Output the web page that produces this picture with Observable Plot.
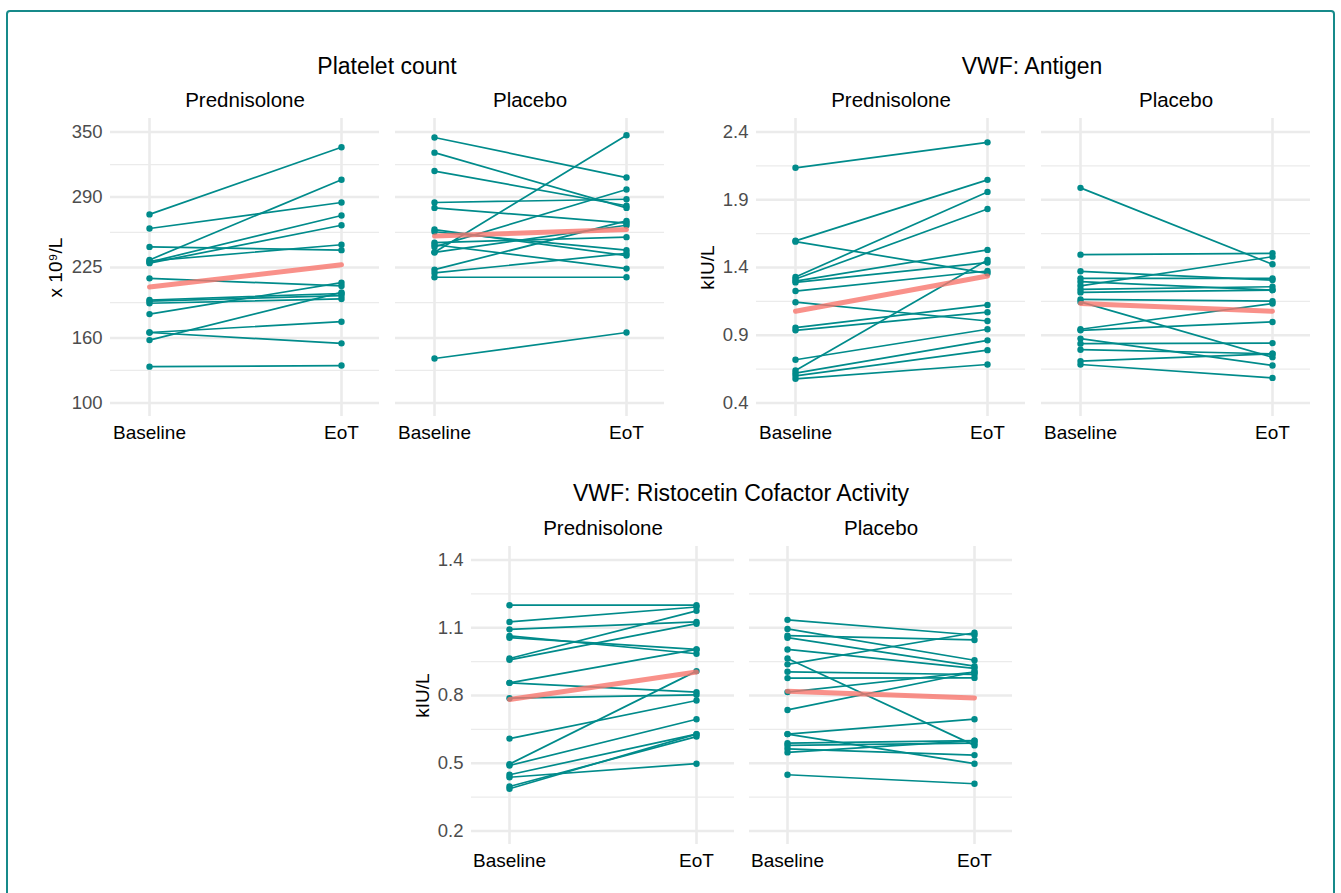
<!DOCTYPE html>
<html>
<head>
<meta charset="utf-8">
<script src="https://cdn.jsdelivr.net/npm/d3@7"></script>
<script src="https://cdn.jsdelivr.net/npm/@observablehq/plot@0.6"></script>
<style>
  html, body { margin: 0; padding: 0; background: #fff; }
  body { width: 1341px; height: 893px; overflow: hidden; position: relative; font-family: "Liberation Sans", Arial, sans-serif; }
  #frame { position: absolute; left: 6px; top: 10px; width: 1329px; height: 900px; border: 2px solid #168a8a; border-radius: 4px; box-sizing: border-box; }
  .title { position: absolute; transform: translate(-50%, -50%); font-size: 23px; color: #000; white-space: nowrap; }
  .panel { position: absolute; }
</style>
</head>
<body>
<div id="frame"></div>
<div class="title" style="left:387px; top:66px;">Platelet count</div>
<div class="title" style="left:1032px; top:66px;">VWF: Antigen</div>
<div class="title" style="left:741px; top:493px;">VWF: Ristocetin Cofactor Activity</div>
<div class="panel" id="pA" style="left:0px; top:78px;"></div>
<div class="panel" id="pB" style="left:680px; top:78px;"></div>
<div class="panel" id="pC" style="left:400px; top:506px;"></div>
<script>
// ---- categories ----
const timepoints = ["Baseline", "EoT"];
const arms = ["Prednisolone", "Placebo"];

// ---- Platelet count (x 10^9/L) ----
const plateletPredBaseline = [274, 261, 244, 232, 230, 229, 231, 215, 195, 194, 192, 182, 165, 165, 158, 133.5];
const plateletPredEoT      = [336, 285, 241, 306, 273, 264, 246, 208, 201, 199, 196, 211, 175, 155, 202, 134.5];
const plateletPlacBaseline = [345, 331, 314, 285, 280, 260, 258, 248, 246, 244, 239, 239, 223, 220, 216, 141];
const plateletPlacEoT      = [308, 280, 282, 288, 266, 236, 241, 253, 224, 297, 347, 264, 268, 238, 216, 165];
const plateletMeanPred = [207, 227.5];
const plateletMeanPlac = [254, 260];
const plateletTicks = [100, 160, 225, 290, 350];
const plateletMinor = [130, 192.5, 257.5, 320];

// ---- VWF: Antigen (kIU/L) ----
const antigenPredBaseline = [2.136, 1.597, 1.591, 1.33, 1.315, 1.30, 1.29, 1.226, 1.144, 0.956, 0.936, 0.719, 0.64, 0.62, 0.60, 0.578];
const antigenPredEoT      = [2.324, 2.047, 1.357, 1.958, 1.832, 1.53, 1.436, 1.374, 1.005, 1.124, 1.07, 0.944, 1.456, 0.862, 0.79, 0.684];
const antigenPlacBaseline = [1.988, 1.495, 1.372, 1.32, 1.295, 1.265, 1.238, 1.216, 1.164, 1.146, 0.944, 0.936, 0.875, 0.838, 0.793, 0.709, 0.684];
const antigenPlacEoT      = [1.424, 1.505, 1.307, 1.32, 1.233, 1.48, 1.258, 1.233, 1.151, 0.738, 1.134, 0.998, 0.677, 0.842, 0.763, 0.763, 0.585];
const antigenMeanPred = [1.077, 1.337];
const antigenMeanPlac = [1.134, 1.077];
const antigenTicks = [0.4, 0.9, 1.4, 1.9, 2.4];
const antigenMinor = [0.65, 1.15, 1.65, 2.15];

// ---- VWF: Ristocetin Cofactor Activity (kIU/L) ----
const rcoPredBaseline = [1.2, 1.126, 1.093, 1.064, 1.056, 0.964, 0.958, 0.856, 0.856, 0.788, 0.609, 0.496, 0.49, 0.449, 0.438, 0.397, 0.387];
const rcoPredEoT      = [1.2, 1.192, 1.126, 0.985, 1.004, 1.175, 1.118, 1.004, 0.815, 0.803, 0.778, 0.908, 0.695, 0.629, 0.498, 0.618, 0.629];
const rcoPlacBaseline = [1.135, 1.095, 1.065, 1.056, 1.004, 0.964, 0.938, 0.905, 0.877, 0.815, 0.736, 0.629, 0.629, 0.589, 0.579, 0.564, 0.548, 0.449];
const rcoPlacEoT      = [1.068, 0.956, 1.046, 0.93, 0.92, 0.579, 1.078, 0.893, 0.878, 0.904, 0.904, 0.695, 0.498, 0.6, 0.589, 0.536, 0.6, 0.409];
const rcoMeanPred = [0.782, 0.904];
const rcoMeanPlac = [0.819, 0.789];
const rcoTicks = [0.2, 0.5, 0.8, 1.1, 1.4];
const rcoMinor = [0.35, 0.65, 0.95, 1.25];

function buildRows(predB, predE, placB, placE) {
  const rows = [];
  [[arms[0], predB, predE], [arms[1], placB, placE]].forEach(([arm, b, e]) => {
    b.forEach((v, i) => {
      rows.push({arm, id: arm + i, time: timepoints[0], value: v});
      rows.push({arm, id: arm + i, time: timepoints[1], value: e[i]});
    });
  });
  return rows;
}
function buildMeans(mPred, mPlac) {
  const rows = [];
  [[arms[0], mPred], [arms[1], mPlac]].forEach(([arm, m]) => {
    m.forEach((v, i) => rows.push({arm, time: timepoints[i], value: v}));
  });
  return rows;
}

const TEAL = "#008b8b";
const GRID = "#ebebeb";

function makePlot({rows, means, ticks, minor, yDomain, yLabel, width, marginLeft, labelOffset}) {
  return Plot.plot({
    width,
    height: 373,
    marginLeft,
    marginRight: 0,
    marginTop: 40,
    marginBottom: 35,
    style: {fontFamily: "'Liberation Sans', Arial, sans-serif", fontSize: "19px", background: "transparent", overflow: "visible"},
    fx: {domain: arms, paddingInner: 0.055, paddingOuter: 0, label: null},
    x: {domain: timepoints, type: "point", padding: 0.2, label: null},
    y: {domain: yDomain, label: null},
    marks: [
      Plot.gridY(minor, {stroke: GRID, strokeOpacity: 1, strokeWidth: 1.3}),
      Plot.gridY(ticks, {stroke: GRID, strokeOpacity: 1, strokeWidth: 2.6}),
      Plot.gridX(timepoints, {stroke: GRID, strokeOpacity: 1, strokeWidth: 2.6}),
      Plot.axisY(ticks, {tickSize: 0, tickPadding: 8, fontSize: 18.5, color: "#4d4d4d", label: null}),
      Plot.axisY(ticks, {tickSize: 0, text: null, color: "#000", fontSize: 19, label: yLabel, labelAnchor: "center", labelArrow: "none", labelOffset}),
      Plot.axisX(timepoints, {tickSize: 0, tickPadding: 9, fontSize: 19, color: "#000", label: null}),
      Plot.axisFx({anchor: "top", tickSize: 0, tickPadding: 12, fontSize: 20.5, color: "#000", label: null}),
      Plot.line(rows, {fx: "arm", x: "time", y: "value", z: "id", stroke: TEAL, strokeWidth: 1.7}),
      Plot.dot(rows, {fx: "arm", x: "time", y: "value", r: 3.2, fill: TEAL, stroke: "none"}),
      Plot.line(means, {fx: "arm", x: "time", y: "value", z: "arm", stroke: "#F8766D", strokeOpacity: 0.8, strokeWidth: 5})
    ]
  });
}

document.getElementById("pA").appendChild(makePlot({
  rows: buildRows(plateletPredBaseline, plateletPredEoT, plateletPlacBaseline, plateletPlacEoT),
  means: buildMeans(plateletMeanPred, plateletMeanPlac),
  ticks: plateletTicks, minor: plateletMinor, yDomain: [87.5, 362.5],
  yLabel: "x 10⁹/L", width: 665, marginLeft: 109, labelOffset: 62
}));
document.getElementById("pB").appendChild(makePlot({
  rows: buildRows(antigenPredBaseline, antigenPredEoT, antigenPlacBaseline, antigenPlacEoT),
  means: buildMeans(antigenMeanPred, antigenMeanPlac),
  ticks: antigenTicks, minor: antigenMinor, yDomain: [0.3, 2.5],
  yLabel: "kIU/L", width: 631, marginLeft: 75, labelOffset: 56
}));
document.getElementById("pC").appendChild(makePlot({
  rows: buildRows(rcoPredBaseline, rcoPredEoT, rcoPlacBaseline, rcoPlacEoT),
  means: buildMeans(rcoMeanPred, rcoMeanPlac),
  ticks: rcoTicks, minor: rcoMinor, yDomain: [0.14, 1.46],
  yLabel: "kIU/L", width: 612, marginLeft: 71, labelOffset: 56
}));
</script>
</body>
</html>
